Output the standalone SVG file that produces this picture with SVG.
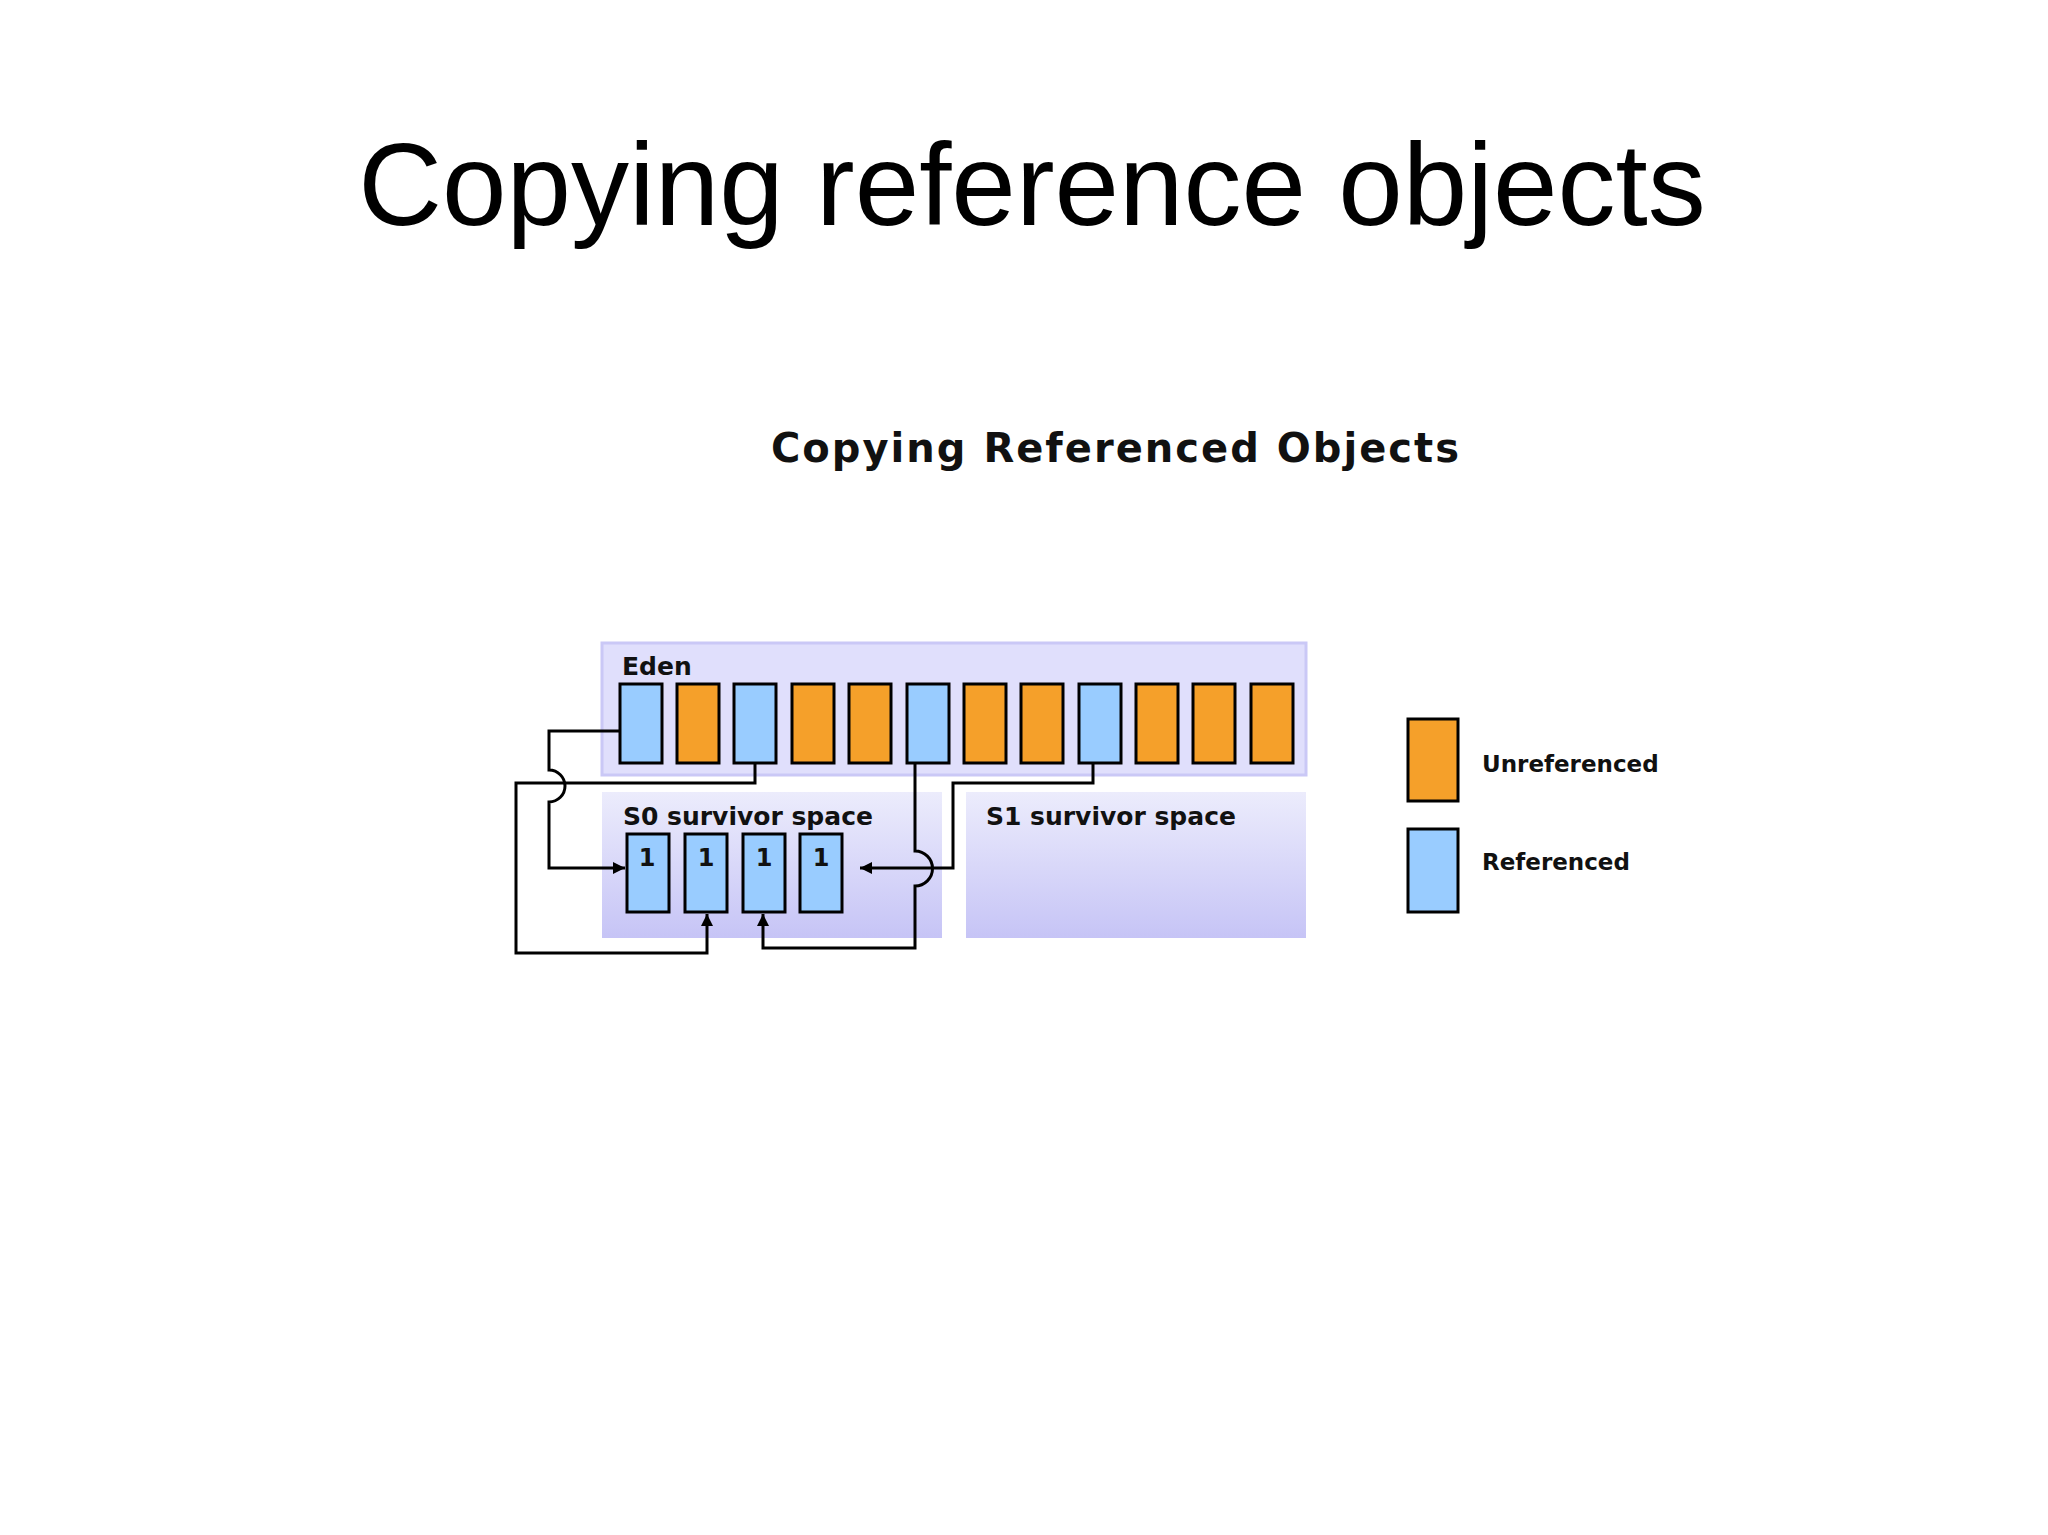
<svg xmlns="http://www.w3.org/2000/svg" width="2048" height="1535" viewBox="0 0 2048 1535">
<style>
.t{font-family:"DejaVu Sans",sans-serif;font-weight:bold;fill:#111}
.b{fill:#99ccff;stroke:#000;stroke-width:3}
.o{fill:#f5a02a;stroke:#000;stroke-width:3}
.c{fill:none;stroke:#000;stroke-width:3}
</style>
<defs>
<linearGradient id="g" x1="0" y1="0" x2="0" y2="1"><stop offset="0" stop-color="#ececfc"/><stop offset="1" stop-color="#c6c4f6"/></linearGradient>
<marker id="a" viewBox="0 0 10 10" refX="10" refY="5" markerWidth="4" markerHeight="4" orient="auto"><path d="M0,0L10,5L0,10z" fill="#000"/></marker>
</defs>
<rect width="2048" height="1535" fill="#fff"/>
<text x="1032" y="225" font-family="Liberation Sans,sans-serif" font-size="116" text-anchor="middle">Copying reference objects</text>
<text class="t" x="1115" y="462" font-size="40" text-anchor="middle" textLength="688">Copying Referenced Objects</text>
<g id="eden">
<rect x="602" y="643" width="704" height="132" fill="#e0dffc" stroke="#cac8f6" stroke-width="3"/>
<text class="t" x="622" y="675" font-size="25">Eden</text>
<rect class="b" x="620" y="684" width="42" height="79"/>
<rect class="o" x="677" y="684" width="42" height="79"/>
<rect class="b" x="734" y="684" width="42" height="79"/>
<rect class="o" x="792" y="684" width="42" height="79"/>
<rect class="o" x="849" y="684" width="42" height="79"/>
<rect class="b" x="907" y="684" width="42" height="79"/>
<rect class="o" x="964" y="684" width="42" height="79"/>
<rect class="o" x="1021" y="684" width="42" height="79"/>
<rect class="b" x="1079" y="684" width="42" height="79"/>
<rect class="o" x="1136" y="684" width="42" height="79"/>
<rect class="o" x="1193" y="684" width="42" height="79"/>
<rect class="o" x="1251" y="684" width="42" height="79"/>
</g>
<g id="s0">
<rect x="602" y="792" width="340" height="146" fill="url(#g)"/>
<text class="t" x="623" y="825" font-size="25">S0 survivor space</text>
<rect class="b" x="627" y="834" width="42" height="78"/>
<rect class="b" x="685" y="834" width="42" height="78"/>
<rect class="b" x="743" y="834" width="42" height="78"/>
<rect class="b" x="800" y="834" width="42" height="78"/>
<text class="t" x="647" y="866" font-size="24" text-anchor="middle">1</text>
<text class="t" x="706" y="866" font-size="24" text-anchor="middle">1</text>
<text class="t" x="764" y="866" font-size="24" text-anchor="middle">1</text>
<text class="t" x="821" y="866" font-size="24" text-anchor="middle">1</text>
</g>
<g id="s1">
<rect x="966" y="792" width="340" height="146" fill="url(#g)"/>
<text class="t" x="986" y="825" font-size="25">S1 survivor space</text>
</g>
<g id="legend">
<rect class="o" x="1408" y="719" width="50" height="82"/>
<rect class="b" x="1408" y="829" width="50" height="83"/>
<text class="t" x="1482" y="772" font-size="23">Unreferenced</text>
<text class="t" x="1482" y="870" font-size="23">Referenced</text>
</g>
<g id="connectors">
<path class="c" d="M620,731H549V770A16,16 0 0 1 549,802V868H625" marker-end="url(#a)"/>
<path class="c" d="M755,763V783H516V953H707V914" marker-end="url(#a)"/>
<path class="c" d="M915,763V851A17.5,17.5 0 0 1 915,886V948H763V914" marker-end="url(#a)"/>
<path class="c" d="M1093,763V783H953V868H860" marker-end="url(#a)"/>
</g>
</svg>
